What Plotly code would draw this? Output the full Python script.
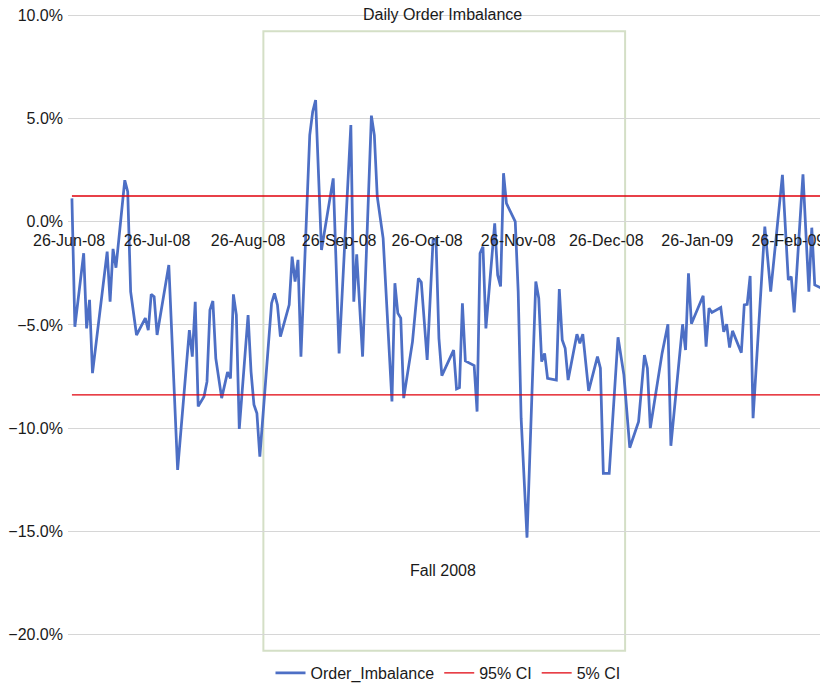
import plotly.graph_objects as go

dates = [
    "2008-06-27", "2008-06-28", "2008-07-01", "2008-07-02", "2008-07-03", "2008-07-04",
    "2008-07-09", "2008-07-10", "2008-07-11", "2008-07-12", "2008-07-15", "2008-07-16",
    "2008-07-17", "2008-07-19", "2008-07-22", "2008-07-23", "2008-07-24", "2008-07-25",
    "2008-07-26", "2008-07-30", "2008-08-02", "2008-08-06", "2008-08-07", "2008-08-08",
    "2008-08-09", "2008-08-11", "2008-08-12", "2008-08-13", "2008-08-14", "2008-08-15",
    "2008-08-17", "2008-08-19", "2008-08-20", "2008-08-21", "2008-08-22", "2008-08-23",
    "2008-08-26", "2008-08-27", "2008-08-28", "2008-08-29", "2008-08-30",
    "2008-09-03", "2008-09-04", "2008-09-05", "2008-09-06", "2008-09-09", "2008-09-10",
    "2008-09-11", "2008-09-12", "2008-09-13", "2008-09-16", "2008-09-17", "2008-09-18",
    "2008-09-20", "2008-09-24", "2008-09-26", "2008-09-30",
    "2008-10-01", "2008-10-02", "2008-10-04", "2008-10-07", "2008-10-08", "2008-10-09",
    "2008-10-11", "2008-10-14", "2008-10-15", "2008-10-16", "2008-10-17", "2008-10-18",
    "2008-10-21", "2008-10-23", "2008-10-24", "2008-10-26", "2008-10-28", "2008-10-29",
    "2008-10-30", "2008-10-31",
    "2008-11-04", "2008-11-05", "2008-11-06", "2008-11-07", "2008-11-08", "2008-11-11",
    "2008-11-12", "2008-11-13", "2008-11-14", "2008-11-15", "2008-11-18", "2008-11-19",
    "2008-11-20", "2008-11-21", "2008-11-22", "2008-11-25", "2008-11-26", "2008-11-27",
    "2008-11-29",
    "2008-12-02", "2008-12-03", "2008-12-04", "2008-12-05", "2008-12-06", "2008-12-09",
    "2008-12-10", "2008-12-11", "2008-12-12", "2008-12-13", "2008-12-16", "2008-12-17",
    "2008-12-18", "2008-12-20", "2008-12-23", "2008-12-24", "2008-12-25", "2008-12-27",
    "2008-12-30",
    "2009-01-01", "2009-01-03", "2009-01-06", "2009-01-08", "2009-01-09", "2009-01-10",
    "2009-01-14", "2009-01-16", "2009-01-17", "2009-01-21", "2009-01-22", "2009-01-23",
    "2009-01-24", "2009-01-28", "2009-01-29", "2009-01-30", "2009-01-31",
    "2009-02-03", "2009-02-04", "2009-02-05", "2009-02-06", "2009-02-07", "2009-02-10",
    "2009-02-11", "2009-02-12", "2009-02-13", "2009-02-14", "2009-02-18", "2009-02-20",
    "2009-02-24", "2009-02-26", "2009-02-27", "2009-02-28",
    "2009-03-03", "2009-03-05", "2009-03-06", "2009-03-07", "2009-03-11",
]

order_imbalance = [
    1.13, -5.09, -1.53, -5.17, -3.79, -7.34,
    -1.45, -3.88, -1.32, -2.23, 2.01, 1.45,
    -3.39, -5.49, -4.67, -5.25, -3.52, -3.63,
    -5.49, -2.10, -12.03, -5.25, -6.54, -3.88,
    -8.95, -8.47, -7.75, -4.28, -3.84, -6.62,
    -8.55, -7.29, -7.59, -3.52, -4.52, -10.04,
    -4.52, -7.26, -8.87, -9.28, -11.38,
    -3.95, -3.47, -4.03, -5.57, -4.03, -1.69,
    -2.90, -1.85, -6.54, 4.20, 5.33, 5.89,
    -1.37, 2.10, -6.38, 4.68,
    -3.88, -1.58, -6.54, 5.14, 4.20, 1.21,
    -0.81, -8.71, -2.98, -4.43, -4.67, -8.55,
    -5.81, -2.74, -2.93, -6.70, -0.89, -0.84,
    -5.65, -7.46,
    -6.22, -8.10, -8.04, -3.95, -6.75, -6.97,
    -9.20, -1.53, -1.21, -5.17, -0.08, -2.58,
    -3.14, 2.35, 0.89, 0.00, -3.39, -9.52,
    -15.31,
    -2.90, -3.71, -6.78, -6.38, -7.59, -7.67,
    -3.26, -5.73, -6.13, -7.67, -5.45, -5.89,
    -5.45, -8.20, -6.54, -7.10, -12.19, -12.19,
    -5.60,
    -7.42, -10.95, -9.69, -6.46, -7.10, -10.00,
    -6.38, -4.97, -10.86, -4.97, -6.22, -2.50,
    -4.94, -3.59, -6.05, -4.19, -4.40,
    -4.16, -5.33, -4.97, -6.10, -5.29, -6.35,
    -4.03, -4.00, -2.63, -9.52, -0.24, -3.39,
    2.27, -2.82, -2.66, -4.40,
    2.30, -3.39, -0.29, -3.06, -3.34,
]

ci_95 = 1.245
ci_5 = -8.39

y_tickvals = [10, 5, 0, -5, -10, -15, -20]
y_ticktext = ["10.0%", "5.0%", "0.0%", "\u22125.0%", "\u221210.0%", "\u221215.0%", "\u221220.0%"]

x_tickvals = ["2008-06-26", "2008-07-26", "2008-08-26", "2008-09-26", "2008-10-26",
              "2008-11-26", "2008-12-26", "2009-01-26", "2009-02-26"]
x_ticktext = ["26-Jun-08", "26-Jul-08", "26-Aug-08", "26-Sep-08", "26-Oct-08",
              "26-Nov-08", "26-Dec-08", "26-Jan-09", "26-Feb-09"]

title_text = "Daily Order Imbalance"
box_label = "Fall 2008"
box_x = ["2008-08-31 05:00", "2009-01-01 10:00"]
box_y = [-20.79, 9.23]
box_label_pos = ("2008-10-31 08:00", -16.92)

FONT = "Liberation Sans, Arial, Helvetica, sans-serif"
TXT = "#1a1a1a"

y_min, y_max = -20.85, 10.21

fig = go.Figure()
fig.add_trace(go.Scatter(
    x=dates, y=order_imbalance, mode="lines", name="Order_Imbalance",
    line=dict(color="#4d6fc5", width=2.75),
))
fig.add_trace(go.Scatter(
    x=[dates[0], dates[-1]], y=[ci_95, ci_95], mode="lines", name="95% CI",
    line=dict(color="#e0000b", width=1.4),
))
fig.add_trace(go.Scatter(
    x=[dates[0], dates[-1]], y=[ci_5, ci_5], mode="lines", name="5% CI",
    line=dict(color="#e0000b", width=1.4),
))

fig.add_shape(type="rect", xref="x", yref="y",
              x0=box_x[0], x1=box_x[1], y0=box_y[0], y1=box_y[1],
              line=dict(color="#d4dfc6", width=2), fillcolor="rgba(0,0,0,0)",
              layer="below")

fig.add_annotation(x=box_label_pos[0], y=box_label_pos[1], xref="x", yref="y",
                   text=box_label, showarrow=False,
                   font=dict(family=FONT, size=16, color=TXT))
fig.add_annotation(x=box_label_pos[0], y=0.9938, xref="x", yref="paper",
                   text=title_text, showarrow=False, yanchor="middle",
                   font=dict(family=FONT, size=16, color=TXT))

# the page body adds an 8px offset, so the figure is sized 8px smaller than the window
fig.update_layout(
    width=820, height=676,
    margin=dict(l=60, r=0, t=3, b=32, autoexpand=False),
    paper_bgcolor="white", plot_bgcolor="white",
    font=dict(family=FONT, size=16, color=TXT),
    showlegend=True,
    legend=dict(orientation="h", x=0.5, xanchor="center",
                yref="container", y=1 - 665 / 676, yanchor="middle",
                font=dict(family=FONT, size=16, color=TXT), itemwidth=30,
                bgcolor="rgba(0,0,0,0)"),
    xaxis=dict(
        type="date",
        range=["2008-06-25 15:50", "2009-03-11 12:30"],
        tickvals=x_tickvals, ticktext=x_ticktext,
        showgrid=False, zeroline=False, showline=False, ticks="",
        anchor="free", position=(0 - y_min) / (y_max - y_min),
        ticklabelstandoff=7, automargin=False, ticklabeloverflow="allow",
        tickfont=dict(family=FONT, size=16, color=TXT),
    ),
    yaxis=dict(
        range=[y_min, y_max],
        tickvals=y_tickvals, ticktext=y_ticktext,
        showgrid=True, gridcolor="#d6d6d6", gridwidth=1,
        zeroline=False, showline=False, ticks="",
        ticklabelstandoff=4, automargin=False, ticklabeloverflow="allow",
        tickfont=dict(family=FONT, size=16, color=TXT),
    ),
)

fig.write_html("out.html")
